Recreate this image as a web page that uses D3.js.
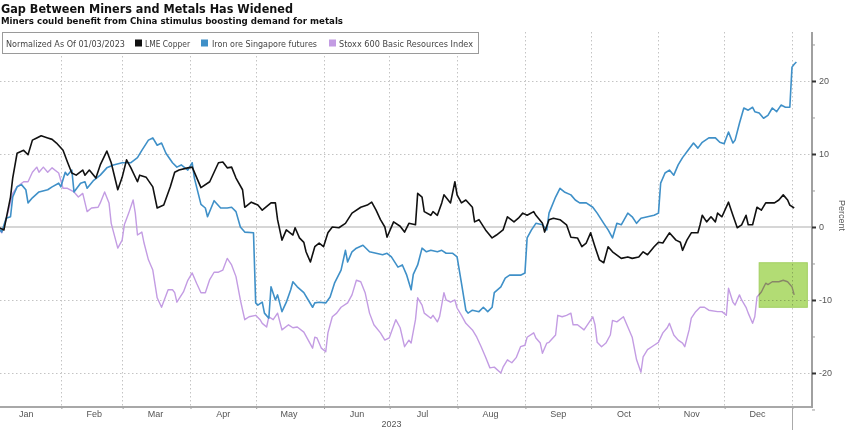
<!DOCTYPE html>
<html><head><meta charset="utf-8">
<script src="https://cdn.jsdelivr.net/npm/d3@7"></script>
<style>
html,body{margin:0;padding:0;background:#fff;}
svg{display:block;font-family:"Liberation Sans",Arial,sans-serif;}
</style></head><body>
<svg id="chart" width="848" height="430"></svg>
<script>
// ---------- data ----------
const titleText = "Gap Between Miners and Metals Has Widened";
const subtitleText = "Miners could benefit from China stimulus boosting demand for metals";
const legendNote = "Normalized As Of 01/03/2023";
const seriesNames = ["LME Copper", "Iron ore Singapore futures", "Stoxx 600 Basic Resources Index"];
const seriesColors = ["#111111", "#3f90c8", "#c39ce3"];
const monthLabels = ["Jan","Feb","Mar","Apr","May","Jun","Jul","Aug","Sep","Oct","Nov","Dec"];
const yearLabel = "2023";
const yTicks = [-20, -10, 0, 10, 20];
const yMinorTicks = [-25, -15, -5, 5, 15, 25];
const yAxisTitle = "Percent";

// day offsets from 2023-01-01
const copperDays = [2,5,8,9,11,14,16,18,20,22,25,27,29,32,34,36,38,41,42,44,47,49,52,54,57,59,61,63,66,67,70,73,75,78,81,83,85,89,91,95,99,103,105,107,109,111,114,115,118,121,123,127,129,130,132,134,137,138,140,142,143,145,147,149,151,153,155,158,161,164,168,171,173,175,177,179,180,183,186,188,190,193,194,196,197,200,201,203,205,206,209,211,212,214,216,219,220,222,225,228,230,233,235,238,240,242,244,247,248,251,252,254,256,259,262,264,267,269,271,273,275,277,279,281,283,287,290,292,295,297,299,302,304,306,309,312,314,315,317,319,322,323,324,326,328,330,331,333,336,338,340,342,344,345,347,349,351,353,355,357,359,361,363,364,366];
const copperValues = [0,-0.4,4.1,6.7,10.1,10.5,9.9,11.9,12.2,12.5,12.2,12.0,11.5,10.5,8.9,7.4,7.1,7.8,7.1,7.8,6.7,8.5,10.4,8.8,5.1,6.8,9.2,8.1,6.2,7.1,6.8,5.5,2.6,3.0,5.5,7.5,7.8,8.1,8.2,5.4,6.2,8.8,8.9,8.1,8.2,6.7,5.1,2.7,3.4,3.0,2.3,3.3,3.3,1.0,-1.8,-0.4,-1.1,-0.1,-1.5,-2.1,-3.4,-4.8,-2.7,-2.2,-2.7,-0.8,0,-0.1,0.5,1.9,2.7,3.0,3.4,2.3,1.0,0,-1.4,0.7,0.1,-0.7,0.5,0.3,4.6,4.1,2.1,1.6,2.1,1.6,3.3,4.4,3.3,6.2,4.4,3.3,3.7,2.7,0.7,1.0,-0.4,-1.5,-1.1,-0.4,1.4,0.7,1.2,1.9,1.6,2.1,1.6,0.5,-0.7,1.0,1.2,1.0,0.3,-1.4,-1.5,-2.7,-2.2,-0.8,-2.7,-4.5,-4.9,-2.7,-3.4,-4.3,-4.1,-4.3,-4.1,-3.4,-3.8,-2.7,-2.1,-2.2,-0.8,-1.8,-2.1,-3.2,-1.8,-0.8,-0.8,0.3,1.6,0.7,1.4,0.7,1.9,1.4,3.4,1.6,-0.1,0.3,1.6,0.3,0.3,2.7,2.3,3.3,3.3,3.3,3.7,4.4,3.7,3.0,2.6];

const ironDays = [2,4,6,8,9,11,13,15,16,18,21,25,27,30,31,33,34,36,37,40,42,43,46,49,52,55,59,63,66,68,71,73,75,77,79,82,84,86,89,91,92,95,97,98,101,104,107,109,111,113,115,119,120,121,123,124,126,127,129,130,132,134,136,137,139,142,144,146,147,149,152,154,156,159,161,162,164,166,169,172,175,178,180,182,185,187,189,191,192,194,196,198,200,203,205,207,210,212,214,216,217,219,222,224,226,228,229,232,234,236,238,241,243,244,246,248,251,253,254,257,259,261,264,266,268,271,274,276,279,281,283,285,287,290,292,294,296,299,302,304,305,307,309,311,313,315,317,320,322,324,327,330,332,334,336,338,339,341,343,345,347,348,350,352,354,356,358,360,362,364,365,366,367];
const ironValues = [0,-0.7,1.2,1.4,4.1,5.5,5.8,5.1,3.3,4.0,4.8,5.1,5.5,6.0,5.5,7.5,7.1,7.8,4.8,6.0,6.2,5.3,6.4,7.1,8.1,8.5,8.8,8.8,9.5,10.5,11.9,12.2,11.2,11.5,10.1,8.8,8.2,8.5,7.8,8.8,6.7,3.1,2.6,1.4,3.6,2.6,2.6,2.7,2.1,0,-0.7,-0.8,-10.4,-10.7,-10.3,-11.8,-12.5,-8.2,-10.0,-9.3,-11.6,-10.3,-8.6,-7.5,-8.2,-9.0,-10.0,-11.0,-10.4,-10.3,-10.4,-9.6,-7.7,-5.9,-3.2,-4.8,-3.4,-2.9,-2.5,-3.4,-3.6,-3.8,-3.6,-4.1,-5.5,-5.2,-6.6,-8.6,-6.5,-5.2,-2.9,-3.4,-3.2,-3.4,-3.2,-3.6,-3.6,-4.1,-7.7,-11.4,-11.8,-11.4,-11.6,-11.0,-11.6,-11.0,-9.0,-8.2,-7.0,-6.6,-6.6,-6.6,-6.3,-1.5,-0.4,0.5,0.3,-0.4,1.9,4.1,5.3,4.8,4.4,3.7,3.3,3.3,2.7,1.9,0.5,-0.4,-1.5,0.5,0.3,1.9,1.4,0.5,1.2,1.4,1.6,1.9,6.0,7.4,7.8,7.1,8.5,9.5,10.3,11.5,10.8,11.6,12.2,12.2,11.6,11.4,13.0,11.5,11.9,14.2,16.3,16.0,16.4,15.8,15.6,14.9,15.3,16.3,15.8,16.7,16.4,16.4,21.9,22.3,22.6];

const stoxxDays = [2,4,6,8,9,11,14,16,18,20,21,23,25,27,30,32,34,37,39,41,43,45,48,49,51,53,54,57,59,60,62,64,65,66,68,69,71,73,75,77,80,82,83,84,87,89,91,93,95,97,99,101,103,105,107,109,111,113,115,117,120,122,123,125,126,128,130,132,135,137,139,142,144,146,147,148,150,152,153,155,157,159,162,164,166,168,170,172,174,177,179,181,184,186,188,190,191,193,194,196,197,200,201,203,204,206,207,209,211,212,214,216,219,221,223,225,227,229,232,233,235,237,239,241,243,244,247,248,250,251,253,254,257,258,260,262,264,265,267,270,272,274,275,276,278,280,282,283,285,288,290,292,294,296,297,299,302,304,306,308,309,311,313,315,316,318,319,321,323,325,327,331,333,335,336,338,339,341,342,344,345,347,348,349,351,353,354,356,359,361,363,365,366];
const stoxxValues = [0,-0.8,1.0,3.4,4.6,5.5,6.2,6.2,7.5,8.2,7.5,8.2,7.5,8.1,7.4,5.3,5.3,4.8,4.1,4.6,2.1,2.6,2.7,3.3,4.8,3.3,0.5,-2.9,-1.8,0.3,1.9,3.7,1.9,-1.1,-0.7,-2.2,-4.5,-5.9,-9.7,-11.0,-8.6,-8.6,-9.0,-10.3,-8.9,-7.3,-6.3,-7.7,-9.0,-9.0,-7.2,-6.2,-6.2,-5.9,-4.3,-5.2,-6.8,-10.0,-12.7,-12.3,-12.1,-12.7,-13.2,-13.7,-12.3,-12.7,-11.8,-14.1,-13.4,-13.8,-13.7,-14.4,-15.5,-16.6,-15.1,-15.2,-16.6,-17.1,-14.5,-12.3,-11.8,-11.0,-10.4,-9.3,-7.3,-7.5,-9.0,-11.8,-13.4,-14.5,-15.5,-15.2,-12.7,-13.8,-16.4,-15.5,-15.9,-12.7,-9.7,-10.7,-11.8,-12.5,-12.1,-13.0,-12.3,-9.0,-10.0,-10.3,-10.0,-11.1,-12.1,-13.2,-14.1,-15.1,-16.4,-17.8,-19.3,-19.2,-20.0,-19.2,-18.2,-18.6,-17.9,-16.4,-16.2,-15.1,-14.5,-15.2,-15.9,-17.3,-15.9,-15.8,-14.8,-12.1,-12.3,-12.1,-11.8,-13.4,-13.4,-14.1,-13.2,-12.3,-13.4,-15.8,-16.4,-15.9,-14.8,-12.8,-13.0,-12.3,-13.7,-15.1,-18.2,-19.9,-17.8,-16.8,-16.2,-15.8,-14.5,-13.8,-13.2,-14.8,-15.5,-15.9,-16.4,-14.1,-12.5,-11.6,-11.0,-11.0,-11.4,-11.6,-11.6,-12.1,-8.4,-10.3,-10.7,-9.3,-10.0,-11.0,-11.8,-13.2,-12.3,-9.6,-8.9,-7.7,-7.9,-7.5,-7.5,-7.3,-7.5,-8.2,-9.3];

// highlight annotation (data space)
const highlightDays = [350, 372];
const highlightValues = [-4.9, -11.0];

// ---------- chart ----------
const svg = d3.select("#chart");
const plot = {left: 0, right: 812, top: 32, bottom: 407};
const base = new Date(2023, 0, 1);
const toDate = d => d3.timeDay.offset(base, d);

const x = d3.scaleTime().domain([base, new Date(2024, 0, 1)]).range([-7, 792]);
const y = d3.scaleLinear().domain([-24.66, 26.71]).range([plot.bottom, plot.top]);

svg.append("defs").append("clipPath").attr("id", "clip")
  .append("rect").attr("x", plot.left).attr("y", plot.top)
  .attr("width", plot.right - plot.left).attr("height", plot.bottom - plot.top);

// grid
const grid = svg.append("g").attr("stroke", "#c4c4c4").attr("stroke-width", 1).attr("stroke-dasharray", "1.5,2.5");
const monthStarts = d3.timeMonth.range(new Date(2023, 1, 1), new Date(2024, 0, 2));
grid.selectAll("line.v").data(monthStarts).join("line")
  .attr("x1", d => Math.round(x(d)) + 0.5).attr("x2", d => Math.round(x(d)) + 0.5)
  .attr("y1", plot.top).attr("y2", plot.bottom);
grid.selectAll("line.h").data(yTicks.filter(v => v !== 0)).join("line")
  .attr("x1", plot.left).attr("x2", plot.right)
  .attr("y1", d => Math.round(y(d)) + 0.5).attr("y2", d => Math.round(y(d)) + 0.5);

// zero line
svg.append("line").attr("x1", plot.left).attr("x2", plot.right)
  .attr("y1", y(0)).attr("y2", y(0)).attr("stroke", "#c8c8c8").attr("stroke-width", 1.6);

// series
const series = [
  {name: seriesNames[2], color: seriesColors[2], days: stoxxDays, values: stoxxValues, w: 1.4},
  {name: seriesNames[1], color: seriesColors[1], days: ironDays, values: ironValues, w: 1.6},
  {name: seriesNames[0], color: seriesColors[0], days: copperDays, values: copperValues, w: 1.6}
];
const line = d3.line().x(d => x(toDate(d[0]))).y(d => y(d[1]));
const lines = svg.append("g").attr("clip-path", "url(#clip)");
series.forEach(s => {
  const pts = d3.zip(s.days, s.values);
  lines.append("path").datum(pts).attr("d", line)
    .attr("fill", "none").attr("stroke", s.color).attr("stroke-width", s.w)
    .attr("stroke-linejoin", "round");
});

// highlight box
svg.append("rect")
  .attr("x", x(toDate(highlightDays[0]))).attr("y", y(highlightValues[0]))
  .attr("width", x(toDate(highlightDays[1])) - x(toDate(highlightDays[0])))
  .attr("height", y(highlightValues[1]) - y(highlightValues[0]))
  .attr("fill", "#b2dc74").attr("stroke", "#a2cf62").attr("stroke-width", 1)
  .style("mix-blend-mode", "multiply");

// x axis
const xAxisG = svg.append("g").attr("transform", `translate(0,${plot.bottom})`);
xAxisG.call(d3.axisBottom(x).tickValues(monthStarts).tickSize(3).tickFormat(""));
xAxisG.select(".domain").remove();
xAxisG.selectAll(".tick line").attr("stroke", "#999").attr("transform", "translate(0.5,-1)");
svg.append("line").attr("x1", plot.left).attr("x2", plot.right)
  .attr("y1", plot.bottom).attr("y2", plot.bottom).attr("stroke", "#a8a8a8").attr("stroke-width", 2);
// year separator tick
svg.append("line").attr("x1", Math.round(x(new Date(2024, 0, 1))) + 0.5).attr("x2", Math.round(x(new Date(2024, 0, 1))) + 0.5)
  .attr("y1", plot.bottom).attr("y2", 430).attr("stroke", "#aaa").attr("stroke-width", 1);

const midMonths = d3.timeMonth.range(new Date(2023, 0, 1), new Date(2024, 0, 1)).map(d => d3.timeDay.offset(d, 15));
const labelAxis = svg.append("g").attr("transform", `translate(0,${plot.bottom})`)
  .call(d3.axisBottom(x).tickValues(midMonths).tickSize(0).tickPadding(4).tickFormat((d, i) => monthLabels[i]));
labelAxis.select(".domain").remove();
labelAxis.selectAll("text").attr("font-family", "Liberation Sans, Arial, sans-serif").attr("font-size", 9).attr("fill", "#555");

svg.append("text").attr("x", x(new Date(2023, 6, 2))).attr("y", 427)
  .attr("text-anchor", "middle").attr("font-size", 9).attr("fill", "#555").text(yearLabel);

// y axis (right)
svg.append("line").attr("x1", plot.right).attr("x2", plot.right)
  .attr("y1", plot.top).attr("y2", plot.bottom + 1).attr("stroke", "#a0a0a0").attr("stroke-width", 2);
const yAxisG = svg.append("g").attr("transform", `translate(${plot.right},0)`)
  .call(d3.axisRight(y).tickValues(yTicks).tickSize(4).tickPadding(3).tickFormat(d => String(d)));
yAxisG.select(".domain").remove();
yAxisG.selectAll(".tick line").attr("stroke", "#333").attr("stroke-width", 2);
yAxisG.selectAll("text").attr("font-family", "Liberation Sans, Arial, sans-serif").attr("font-size", 9).attr("fill", "#555");
const yMinorG = svg.append("g").attr("transform", `translate(${plot.right},0)`)
  .call(d3.axisRight(y).tickValues(yMinorTicks).tickSize(3).tickFormat(""));
yMinorG.select(".domain").remove();
yMinorG.selectAll(".tick line").attr("stroke", "#999");

svg.append("text").attr("transform", `translate(841,${(plot.top + plot.bottom) / 2 - 4}) rotate(90)`)
  .attr("text-anchor", "middle").attr("dominant-baseline", "middle")
  .attr("font-size", 9).attr("fill", "#555").text(yAxisTitle);

// title
svg.append("text").attr("x", 1).attr("y", 13).attr("font-family", "DejaVu Sans, Verdana, sans-serif")
  .attr("font-size", 12.5).attr("font-weight", "bold")
  .attr("fill", "#111").attr("textLength", 292).attr("lengthAdjust", "spacingAndGlyphs").text(titleText);
svg.append("text").attr("x", 1).attr("y", 24).attr("font-family", "DejaVu Sans, Verdana, sans-serif")
  .attr("font-size", 8.5).attr("font-weight", "bold")
  .attr("fill", "#111").attr("textLength", 342).attr("lengthAdjust", "spacingAndGlyphs").text(subtitleText);

// legend
const lg = svg.append("g");
lg.append("rect").attr("x", 2.5).attr("y", 32.5).attr("width", 476).attr("height", 21)
  .attr("fill", "#fff").attr("stroke", "#9a9a9a").attr("stroke-width", 1);
const legendItems = [
  {text: legendNote, tx: 6, tw: 119, color: null},
  {text: seriesNames[0], tx: 145, tw: 45, color: seriesColors[0], sx: 135},
  {text: seriesNames[1], tx: 212, tw: 105, color: seriesColors[1], sx: 201},
  {text: seriesNames[2], tx: 339, tw: 134, color: seriesColors[2], sx: 329}
];
legendItems.forEach(it => {
  if (it.color) lg.append("rect").attr("x", it.sx).attr("y", 39.5).attr("width", 7).attr("height", 7).attr("fill", it.color);
  lg.append("text").attr("x", it.tx).attr("y", 46.5).attr("font-family", "DejaVu Sans, Verdana, sans-serif")
    .attr("font-size", 8).attr("fill", "#444")
    .attr("textLength", it.tw).attr("lengthAdjust", "spacingAndGlyphs").text(it.text);
});
</script>
</body></html>
